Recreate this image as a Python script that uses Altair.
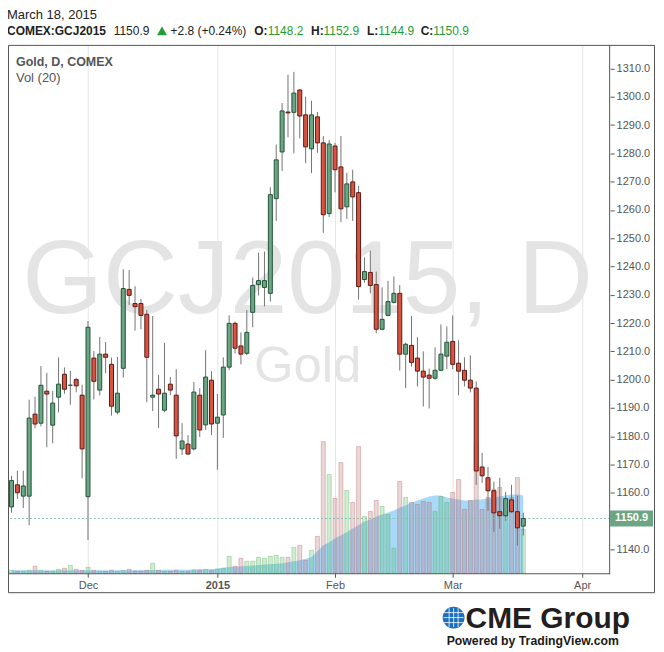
import altair as alt
import pandas as pd

# ---------------- data ----------------
opens = [1155.0, 1162.8, 1158.8, 1158.8, 1187.8, 1184.6, 1195.9, 1183.9, 1193.8, 1201.9,
         1198.0, 1200.0, 1194.5, 1158.6, 1207.6, 1196.3, 1209.0, 1205.4, 1188.5, 1204.0,
         1231.9, 1226.9, 1226.9, 1223.1, 1193.8, 1196.6, 1189.2, 1198.4, 1194.5, 1175.5,
         1177.2, 1175.5, 1194.5, 1184.0, 1199.8, 1184.6, 1187.5, 1204.4, 1219.9, 1211.9,
         1209.3, 1223.8, 1233.6, 1232.6, 1230.5, 1264.0, 1280.5, 1294.6, 1294.5, 1302.4,
         1293.6, 1281.6, 1292.9, 1283.7, 1258.7, 1282.6, 1275.2, 1261.1, 1269.9, 1266.1,
         1235.4, 1237.9, 1233.6, 1217.8, 1222.7, 1227.3, 1230.5, 1209.0, 1212.1, 1207.6,
         1203.0, 1201.6, 1200.5, 1203.3, 1208.3, 1213.5, 1205.8, 1203.3, 1199.8, 1197.0,
         1169.1, 1165.3, 1160.7, 1153.3, 1151.9, 1157.5, 1153.3, 1148.2]
highs = [1166.0, 1167.8, 1167.8, 1192.9, 1194.0, 1204.8, 1202.4, 1196.0, 1207.8, 1204.3,
         1203.1, 1200.7, 1198.2, 1220.7, 1210.1, 1215.1, 1213.3, 1207.8, 1208.0, 1239.0,
         1238.7, 1233.0, 1228.5, 1224.6, 1222.5, 1201.7, 1213.0, 1200.9, 1203.7, 1184.6,
         1180.4, 1199.2, 1197.0, 1210.4, 1203.0, 1194.9, 1207.9, 1222.7, 1220.5, 1216.7,
         1224.6, 1236.1, 1244.9, 1245.3, 1268.0, 1283.1, 1297.8, 1307.8, 1308.8, 1302.7,
         1300.0, 1298.6, 1294.6, 1286.1, 1284.7, 1283.7, 1286.1, 1273.1, 1274.2, 1268.5,
         1243.2, 1245.6, 1238.2, 1232.6, 1234.9, 1236.5, 1233.4, 1213.1, 1222.5, 1215.0,
         1210.0, 1203.9, 1211.4, 1219.5, 1218.8, 1222.7, 1213.9, 1207.9, 1208.6, 1199.4,
         1174.1, 1169.1, 1163.9, 1165.3, 1160.3, 1162.8, 1158.9, 1152.9]
lows = [1153.0, 1157.8, 1154.6, 1148.5, 1182.8, 1183.5, 1176.1, 1177.5, 1188.4, 1195.0,
        1191.1, 1195.5, 1165.1, 1143.3, 1193.0, 1194.4, 1202.3, 1187.3, 1187.7, 1200.7,
        1226.4, 1217.3, 1217.8, 1192.0, 1188.9, 1182.9, 1188.5, 1194.5, 1172.0, 1173.4,
        1173.4, 1175.0, 1179.7, 1182.2, 1180.4, 1168.1, 1179.4, 1203.3, 1209.3, 1205.4,
        1208.6, 1218.5, 1229.8, 1225.9, 1227.6, 1256.1, 1273.8, 1285.7, 1280.0, 1285.3,
        1276.5, 1273.0, 1280.2, 1251.9, 1257.5, 1266.2, 1255.7, 1256.8, 1256.1, 1228.3,
        1234.3, 1230.5, 1216.4, 1217.5, 1222.4, 1226.9, 1203.2, 1197.0, 1204.6, 1197.6,
        1190.5, 1189.8, 1200.0, 1203.0, 1203.7, 1203.7, 1194.4, 1197.6, 1195.5, 1162.8,
        1163.5, 1153.6, 1146.2, 1147.3, 1150.1, 1152.9, 1141.3, 1144.9]
closes = [1164.3, 1160.0, 1162.4, 1186.4, 1184.3, 1198.0, 1194.9, 1191.7, 1198.4, 1196.6,
          1198.0, 1197.8, 1175.5, 1218.5, 1199.4, 1209.0, 1207.9, 1190.6, 1195.2, 1232.2,
          1229.8, 1225.8, 1222.7, 1207.9, 1194.5, 1194.9, 1195.2, 1196.3, 1180.1, 1178.3,
          1173.7, 1195.6, 1182.2, 1200.9, 1184.3, 1186.7, 1204.4, 1219.9, 1211.1, 1209.0,
          1216.7, 1233.3, 1235.0, 1235.0, 1265.4, 1277.7, 1295.0, 1294.3, 1301.3, 1293.2,
          1282.3, 1293.6, 1283.7, 1258.3, 1283.3, 1274.2, 1260.4, 1269.2, 1264.6, 1232.9,
          1238.2, 1233.3, 1217.8, 1221.3, 1227.6, 1230.5, 1209.0, 1212.5, 1206.1, 1203.0,
          1200.9, 1200.5, 1203.3, 1209.0, 1213.2, 1205.4, 1203.0, 1199.8, 1197.0, 1167.7,
          1166.0, 1160.7, 1152.9, 1151.9, 1157.9, 1153.3, 1147.6, 1150.9]
volumes = [3, 2, 2, 3, 7, 3, 2, 2, 4, 5,
           8, 4, 3, 6, 3, 2, 2, 3, 2, 3,
           4, 2, 2, 3, 10, 3, 2, 2, 3, 2,
           2, 3, 3, 4, 3, 4, 5, 17, 7, 15,
           12, 12, 16, 15, 17, 18, 16, 16, 26, 28,
           13, 23, 37, 132, 99, 75, 111, 83, 71, 127,
           57, 62, 73, 67, 59, 25, 92, 76, 71, 69,
           72, 71, 62, 77, 71, 81, 94, 64, 73, 129,
           64, 76, 84, 86, 75, 76, 96, 44]
vol_ma = [3, 3, 3, 3, 3, 3, 3, 3, 3, 3,
          3, 3, 3, 3, 3, 3, 3, 3, 3, 3,
          3, 3.2, 3.2, 3.2, 3.2, 3.2, 3.5, 3.5, 3.5, 3.5,
          3.5, 4, 4, 4, 4, 4.7, 5.5, 6.2, 6.6, 7,
          7.3, 7.8, 8.2, 8.7, 9, 9.5, 10, 11, 12, 13,
          14.5, 16, 22, 28, 31, 35, 38, 41, 45, 48.5,
          52, 54, 57, 59, 61, 63, 66, 68, 71, 73,
          75, 77, 78, 78, 76, 75, 74, 73, 73, 74,
          74, 75, 76, 77, 78, 79, 79, 78]

month_ticks = [13, 35, 55, 75, 97]
month_labels = ["Dec", "2015", "Feb", "Mar", "Apr"]
price_ticks = list(range(1140, 1311, 10))
last_price = 1150.9

header_texts = ["COMEX:GCJ2015", "1150.9", "+2.8 (+0.24%)", "O:", "1148.2", "H:", "1152.9",
                "L:", "1144.9", "C:", "1150.9"]
header_x = [-1, 106, 163, 247, 260.5, 304, 316.5, 360, 371.5, 414, 426.5]
header_color = ["#222222", "#222222", "#222222", "#222222", "#1e9e35", "#222222", "#1e9e35",
                "#222222", "#1e9e35", "#222222", "#1e9e35"]
header_bold = [True, False, False, True, False, True, False, True, False, True, False]

# ---------------- build ----------------
n = len(opens)
df = pd.DataFrame({"i": list(range(n)), "open": opens, "high": highs, "low": lows,
                   "close": closes, "vol": volumes, "ma": vol_ma})
one = pd.DataFrame({"k": [0]})
hdr = pd.DataFrame({"t": header_texts, "x": header_x, "c": header_color, "b": header_bold})

FONT = "Liberation Sans"
GREEN_F, GREEN_S = "#6ba583", "#225437"
RED_F, RED_S = "#d75442", "#5b1a13"

label_expr = " : ".join(f"datum.value == {t} ? '{l}'" for t, l in zip(month_ticks, month_labels)) + " : ''"
bold_tick = month_ticks[month_labels.index("2015")]

x_enc = alt.X("i:Q", scale=alt.Scale(domain=[0.25, 100.9167], nice=False, zero=False),
              axis=alt.Axis(values=month_ticks, labelExpr=label_expr, title=None, grid=True,
                            gridColor="#e6e6e6", domain=False, tickColor="#555555", tickSize=4,
                            labelColor="#555555", labelFontSize=11, labelFont=FONT,
                            labelPadding=2, labelOverlap=False,
                            labelFontWeight={"condition": {"test": f"datum.value == {bold_tick}", "value": "bold"},
                                             "value": "normal"}))

price_scale = alt.Scale(domain=[1131.54, 1318.35], nice=False, zero=False)
price_axis = alt.Axis(orient="right", values=price_ticks, format=".1f", title=None,
                      gridColor="#e6e6e6", domain=False, tickColor="#555555", tickSize=4,
                      labelColor="#555555", labelFontSize=11, labelFont=FONT, labelPadding=2,
                      labelOverlap=False, labelFlush=False, tickCount=len(price_ticks))

base = alt.Chart(df)

up = "datum.close >= datum.open"

wicks = base.mark_rule(color="#737375", strokeWidth=1).encode(
    x=x_enc, y=alt.Y("low:Q", scale=price_scale, axis=price_axis), y2="high:Q")
bodies = base.mark_bar(size=4, strokeWidth=1).encode(
    x=x_enc, y=alt.Y("open:Q", scale=price_scale, axis=price_axis), y2="close:Q",
    fill=alt.condition(up, alt.value(GREEN_F), alt.value(RED_F)),
    stroke=alt.condition(up, alt.value(GREEN_S), alt.value(RED_S)))
last_line = alt.Chart(one).mark_rule(color="#8fbdb5", strokeDash=[2, 2], strokeWidth=1).encode(
    y=alt.YDatum(last_price, scale=price_scale, axis=price_axis))
price_box = alt.Chart(one).mark_rect(color=GREEN_F, yOffset=-8, y2Offset=8).encode(
    x=alt.value(604), x2=alt.value(647), y=alt.YDatum(last_price, scale=price_scale, axis=price_axis),
    y2=alt.datum(last_price))
price_txt = alt.Chart(one).mark_text(color="white", fontSize=11, fontWeight="bold", font=FONT,
                                     align="center", baseline="middle").encode(
    x=alt.value(625.5), y=alt.YDatum(last_price, scale=price_scale, axis=price_axis),
    text=alt.value(f"{last_price:.1f}"))

price_layer = alt.layer(wicks, last_line, bodies, price_box, price_txt)

vol_scale = alt.Scale(domain=[0, 530], nice=False, zero=True)
ma_area = base.mark_area(color="#1e9bf0", opacity=0.38, interpolate="linear").encode(
    x=x_enc, y=alt.Y("ma:Q", scale=vol_scale, axis=None))
vol_bars = base.mark_bar(size=4, strokeWidth=1, fillOpacity=0.25, strokeOpacity=0.35).encode(
    x=x_enc, y=alt.Y("vol:Q", scale=vol_scale, axis=None),
    fill=alt.condition(up, alt.value("#4caf50"), alt.value("#b06060")),
    stroke=alt.condition(up, alt.value("#4caf50"), alt.value("#b06060")))
vol_layer = alt.layer(ma_area, vol_bars)

wm1 = alt.Chart(one).mark_text(text="GCJ2015, D", fontSize=104, font=FONT, color="#e4e4e4",
                               align="center", baseline="alphabetic").encode(
    x=alt.value(300.5), y=alt.value(269))
wm2 = alt.Chart(one).mark_text(text="Gold", fontSize=51, font=FONT, color="#e4e4e4",
                               align="center", baseline="alphabetic").encode(
    x=alt.value(300.5), y=alt.value(338))

legend1 = alt.Chart(one).mark_text(text="Gold, D, COMEX", fontSize=12.5, fontWeight="bold", font=FONT,
                                   color="#555555", align="left", baseline="alphabetic").encode(
    x=alt.value(8), y=alt.value(21))
legend2 = alt.Chart(one).mark_text(text="Vol (20)", fontSize=13, font=FONT,
                                   color="#555555", align="left", baseline="alphabetic").encode(
    x=alt.value(8), y=alt.value(37))

date_txt = alt.Chart(one).mark_text(text="March 18, 2015", fontSize=13, font=FONT, color="#222222",
                                    align="left", baseline="alphabetic").encode(
    x=alt.value(-1), y=alt.value(-25.5))
hdr_bold = alt.Chart(hdr).transform_filter("datum.b").mark_text(
    fontSize=12, font=FONT, fontWeight="bold", align="left", baseline="alphabetic").encode(
    x=alt.X("x:Q", scale=None), y=alt.value(-10), text="t:N", color=alt.Color("c:N", scale=None))
hdr_norm = alt.Chart(hdr).transform_filter("!datum.b").mark_text(
    fontSize=12, font=FONT, align="left", baseline="alphabetic").encode(
    x=alt.X("x:Q", scale=None), y=alt.value(-10), text="t:N", color=alt.Color("c:N", scale=None))
tri = alt.Chart(one).mark_point(shape="triangle-up", filled=True, size=100, color="#1e9e35",
                                opacity=1).encode(x=alt.value(154.5), y=alt.value(-14))

frame = alt.Chart(one).mark_rect(fillOpacity=0, stroke="#555555", strokeWidth=1).encode(
    x=alt.value(0.5), x2=alt.value(648.5), y=alt.value(0.5), y2=alt.value(549.5))
right_border = alt.Chart(one).mark_rule(color="#555555", strokeWidth=1).encode(
    x=alt.value(603.5), y=alt.value(0), y2=alt.value(531))
bottom_border = alt.Chart(one).mark_rule(color="#555555", strokeWidth=1).encode(
    x=alt.value(0), x2=alt.value(604), y=alt.value(530.5))

globe = alt.Chart(one).mark_point(shape="circle", filled=True, size=480, color="#1c6fbf",
                                  opacity=1).encode(x=alt.value(447), y=alt.value(574.5))
globe_lines = alt.Chart(pd.DataFrame({"yy": [569.5, 574.5, 579.5]})).mark_rule(
    color="white", strokeWidth=1, opacity=0.8).encode(
    x=alt.value(437), x2=alt.value(457), y=alt.Y("yy:Q", scale=None))
globe_v = alt.Chart(pd.DataFrame({"xx": [442.5, 447, 451.5]})).mark_rule(
    color="white", strokeWidth=1, opacity=0.8).encode(
    x=alt.X("xx:Q", scale=None), y=alt.value(565), y2=alt.value(584))
cme = alt.Chart(one).mark_text(text="CME Group", fontSize=30, fontWeight="bold", font=FONT,
                               color="#231f20", align="left", baseline="alphabetic").encode(
    x=alt.value(459), y=alt.value(585))
powered = alt.Chart(one).mark_text(text="Powered by TradingView.com", fontSize=12.3, fontWeight="bold",
                                   font=FONT, color="#1a1a1a", align="left", baseline="alphabetic").encode(
    x=alt.value(440), y=alt.value(602))

chart = alt.layer(
    wm1, wm2,
    alt.layer(vol_layer, price_layer).resolve_scale(y="independent"),
    legend1, legend2, date_txt, hdr_bold, hdr_norm, tri,
    frame, right_border, bottom_border,
    globe, globe_lines, globe_v, cme, powered,
).properties(
    width=604, height=530,
    autosize=alt.AutoSizeParams(type="none"),
    padding={"left": 0, "top": 36, "right": 46, "bottom": 76},
    background="white",
).configure_view(stroke=None)

chart.save("out.html", embed_options={"renderer": "svg", "actions": False})
